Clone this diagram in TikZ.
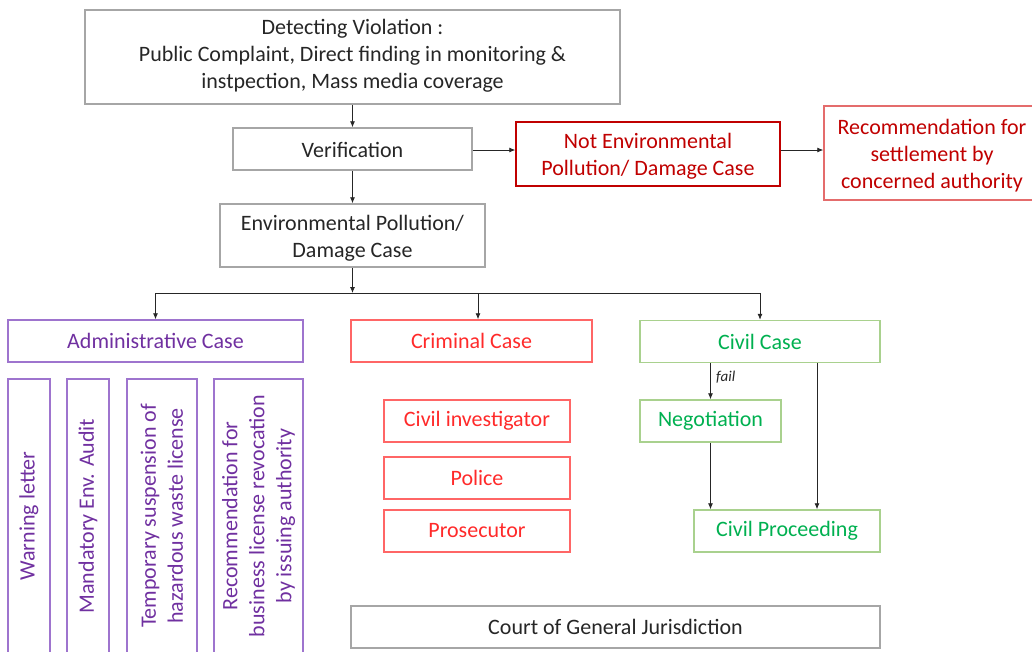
\documentclass[tikz,border=0pt]{standalone}
\usepackage{fontspec}
\setmainfont{Carlito}
\usetikzlibrary{arrows.meta}
\definecolor{txt}{HTML}{262626}
\definecolor{gline}{HTML}{A6A6A6}
\definecolor{dred}{HTML}{C00000}
\definecolor{recb}{HTML}{E46C6C}
\definecolor{critxt}{HTML}{FF2A2A}
\definecolor{crib}{HTML}{FF6666}
\definecolor{purtxt}{HTML}{7030A0}
\definecolor{purb}{HTML}{9E74CE}
\definecolor{grtxt}{HTML}{00B050}
\definecolor{grb}{HTML}{A9D18E}
\begin{document}
\begin{tikzpicture}[x=1pt,y=-1pt,
  box/.style={draw=#1, line width=1.5pt, inner sep=0pt, align=center, font=\fontsize{22}{27}\selectfont},
  graybox/.style={box=gline, text=txt},
  notbox/.style={box=dred, text=dred},
  recbox/.style={box=recb, text=dred},
  cribox/.style={box=crib, text=critxt},
  purbox/.style={box=purb, text=purtxt},
  grbox/.style={box=grb, text=grtxt},
  arr/.style={-{Latex[length=6pt,width=5pt]}, line width=0.8pt, draw=txt},
  plain/.style={line width=0.8pt, draw=txt}]
\useasboundingbox (0,0) rectangle (1032,651);

\node[graybox, minimum width=535pt, minimum height=94pt] (det) at (352.5,57) {};
\node[text=txt, align=center, font=\fontsize{22}{27}\selectfont] (dettxt) at (352.5,56)
  {Detecting Violation :\\Public Complaint, Direct finding in monitoring \&\\instpection, Mass media coverage};
\node[graybox, minimum width=239pt, minimum height=42pt] (ver) at (352.5,149) {};
\node[text=txt, font=\fontsize{22}{27}\selectfont] (vertxt) at (352.5,150) {Verification};
\node[graybox, minimum width=265pt, minimum height=63pt] (env) at (352.5,235.5) {};
\node[text=txt, align=center, font=\fontsize{22}{27}\selectfont] (envtxt) at (352.5,238) {Environmental Pollution/\\Damage Case};
\node[notbox, minimum width=264pt, minimum height=64pt] (notenv) at (648,154) {};
\node[text=dred, align=center, font=\fontsize{22}{27}\selectfont] (notenvtxt) at (648,156) {Not Environmental\\Pollution/ Damage Case};
\node[recbox, minimum width=222pt, minimum height=94pt] (rec) at (935,153) {};
\node[text=dred, align=center, font=\fontsize{22}{27}\selectfont] (rectxt) at (932,156) {Recommendation for\\settlement by\\concerned authority};

\node[purbox, minimum width=295pt, minimum height=42pt] (adm) at (155.5,341) {Administrative Case};
\node[cribox, minimum width=241pt, minimum height=42pt] (cri) at (471.5,341) {Criminal Case};
\node[grbox, minimum width=240pt, minimum height=42pt] (civ) at (760,341.5) {Civil Case};

\node[purbox, rotate=90, minimum width=274pt, minimum height=42pt] (w1) at (29,516) {Warning letter};
\node[purbox, rotate=90, minimum width=274pt, minimum height=42pt] (w2) at (88,516) {Mandatory Env. Audit};
\node[purbox, rotate=90, minimum width=274pt, minimum height=70pt] (w3) at (162,516) {Temporary suspension of\\hazardous waste license};
\node[purbox, rotate=90, minimum width=274pt, minimum height=89pt] (w4) at (258.5,516) {Recommendation for\\business license revocation\\by issuing authority};

\node[cribox, minimum width=186pt, minimum height=42pt] (inv) at (477,421) {Civil investigator};
\node[cribox, minimum width=186pt, minimum height=42pt] (pol) at (477,478) {Police};
\node[cribox, minimum width=186pt, minimum height=42pt] (pro) at (477,531) {Prosecutor};

\node[grbox, minimum width=141pt, minimum height=42pt] (neg) at (710.5,421) {Negotiation};
\node[grbox, minimum width=186pt, minimum height=42pt] (proc) at (787,531) {Civil Proceeding};

\node[graybox, minimum width=529pt, minimum height=42pt] (court) at (615.5,627) {Court of General Jurisdiction};

% connectors
\draw[arr] (det) -- (ver);
\draw[arr] (ver) -- (env);
\draw[arr] (ver.east |- 0,150) -- (notenv.west |- 0,150);
\draw[arr] (notenv.east |- 0,150) -- (rec.west |- 0,150);

\coordinate (bus) at (352.5,293);
\coordinate (busL) at (155.5,293);
\coordinate (busM) at (478,293);
\coordinate (busR) at (760,293);
\draw[arr] (env) -- (bus);
\draw[plain] (busL) -- (busR);
\draw[arr] (busL) -- (adm.north -| busL);
\draw[arr] (busM) -- (cri.north -| busM);
\draw[arr] (busR) -- (civ.north);

\coordinate (cr) at (817,0);
\draw[arr] (civ.south -| neg) -- node[right, text=txt, font=\fontsize{15}{18}\selectfont\itshape, pos=0.4, xshift=2pt]{fail} (neg.north);
\draw[arr] (neg.south) -- (neg.south |- proc.north);
\draw[arr] (civ.south -| cr) -- (proc.north -| cr);
\end{tikzpicture}
\end{document}
